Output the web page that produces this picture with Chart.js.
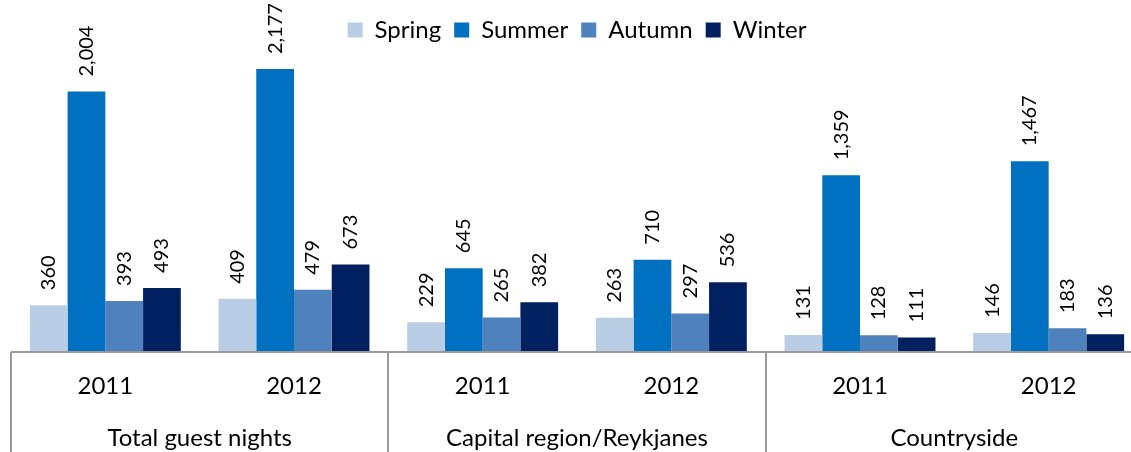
<!DOCTYPE html>
<html>
<head>
<meta charset="utf-8">
<script src="https://cdn.jsdelivr.net/npm/chart.js@4"></script>
<style>
    html, body { margin: 0; padding: 0; background: #fff; overflow: hidden; }
    #wrap { width: 1143px; height: 452px; }
</style>
</head>
<body>
<div id="wrap"><canvas id="grafico"></canvas></div>
<script>
const regioes = ["Total guest nights", "Capital region/Reykjanes", "Countryside"];
const anos = ["2011", "2012"];
const categorias = ["2011", "2012", "2011", "2012", "2011", "2012"];

const spring = [360, 409, 229, 263, 131, 146];
const summer = [2004, 2177, 645, 710, 1359, 1467];
const autumn = [393, 479, 265, 297, 128, 183];
const winter = [493, 673, 382, 536, 111, 136];

const FONTE = "Lato, 'Open Sans', sans-serif";

function formatarNumero(v) {
    return v.toLocaleString("en-US");
}

// rotulos verticais em cima das barras
const rotulosPlugin = {
    id: "rotulos",
    afterDatasetsDraw(chart) {
        const ctx = chart.ctx;
        ctx.save();
        ctx.fillStyle = "#000";
        ctx.font = "20px " + FONTE;
        ctx.textAlign = "left";
        ctx.textBaseline = "middle";
        chart.data.datasets.forEach((ds, i) => {
            chart.getDatasetMeta(i).data.forEach((el, j) => {
                ctx.save();
                ctx.translate(el.x, el.y - 15);
                ctx.rotate(-Math.PI / 2);
                ctx.fillText(formatarNumero(ds.data[j]), 0, 0);
                ctx.restore();
            });
        });
        ctx.restore();
    }
};

// eixo x com dois niveis (ano / regiao)
const eixoPlugin = {
    id: "eixoDuplo",
    afterDraw(chart) {
        const ctx = chart.ctx;
        const x = chart.scales.x;
        const area = chart.chartArea;
        const passo = x.getPixelForValue(1) - x.getPixelForValue(0);
        const base = area.bottom;

        ctx.save();
        ctx.strokeStyle = "#9a9a9a";
        ctx.lineWidth = 2;
        ctx.beginPath();
        ctx.moveTo(area.left, base);
        ctx.lineTo(chart.width, base);
        ctx.stroke();

        regioes.forEach((r, i) => {
            const xs = x.getPixelForValue(i * anos.length) - passo / 2;
            ctx.beginPath();
            ctx.moveTo(Math.round(xs), base);
            ctx.lineTo(Math.round(xs), chart.height);
            ctx.stroke();
        });

        ctx.fillStyle = "#000";
        ctx.font = "24px " + FONTE;
        ctx.textAlign = "center";
        ctx.textBaseline = "middle";
        categorias.forEach((c, i) => {
            ctx.fillText(c, x.getPixelForValue(i), base + 34);
        });
        regioes.forEach((r, i) => {
            const a = x.getPixelForValue(i * anos.length);
            const b = x.getPixelForValue(i * anos.length + anos.length - 1);
            ctx.fillText(r, (a + b) / 2, base + 86);
        });
        ctx.restore();
    }
};

Chart.defaults.color = "#000";
Chart.defaults.font.family = FONTE;

new Chart(document.getElementById("grafico"), {
    type: "bar",
    data: {
        labels: categorias,
        datasets: [
            { label: "Spring", data: spring, backgroundColor: "#b9cde5" },
            { label: "Summer", data: summer, backgroundColor: "#0070c0" },
            { label: "Autumn", data: autumn, backgroundColor: "#4f81bd" },
            { label: "Winter", data: winter, backgroundColor: "#002060" }
        ]
    },
    options: {
        responsive: true,
        maintainAspectRatio: false,
        animation: false,
        layout: {
            padding: { left: 11, right: 0, top: 5, bottom: 100 }
        },
        datasets: {
            bar: { categoryPercentage: 0.8, barPercentage: 1.0, borderWidth: 0 }
        },
        plugins: {
            legend: {
                position: "top",
                labels: {
                    boxWidth: 15,
                    boxHeight: 15,
                    padding: 13,
                    color: "#000",
                    font: { size: 24, family: FONTE }
                }
            },
            tooltip: { enabled: false }
        },
        scales: {
            x: { display: false },
            y: { display: false, min: 0, max: 2308 }
        }
    },
    plugins: [rotulosPlugin, eixoPlugin]
});
</script>
</body>
</html>
